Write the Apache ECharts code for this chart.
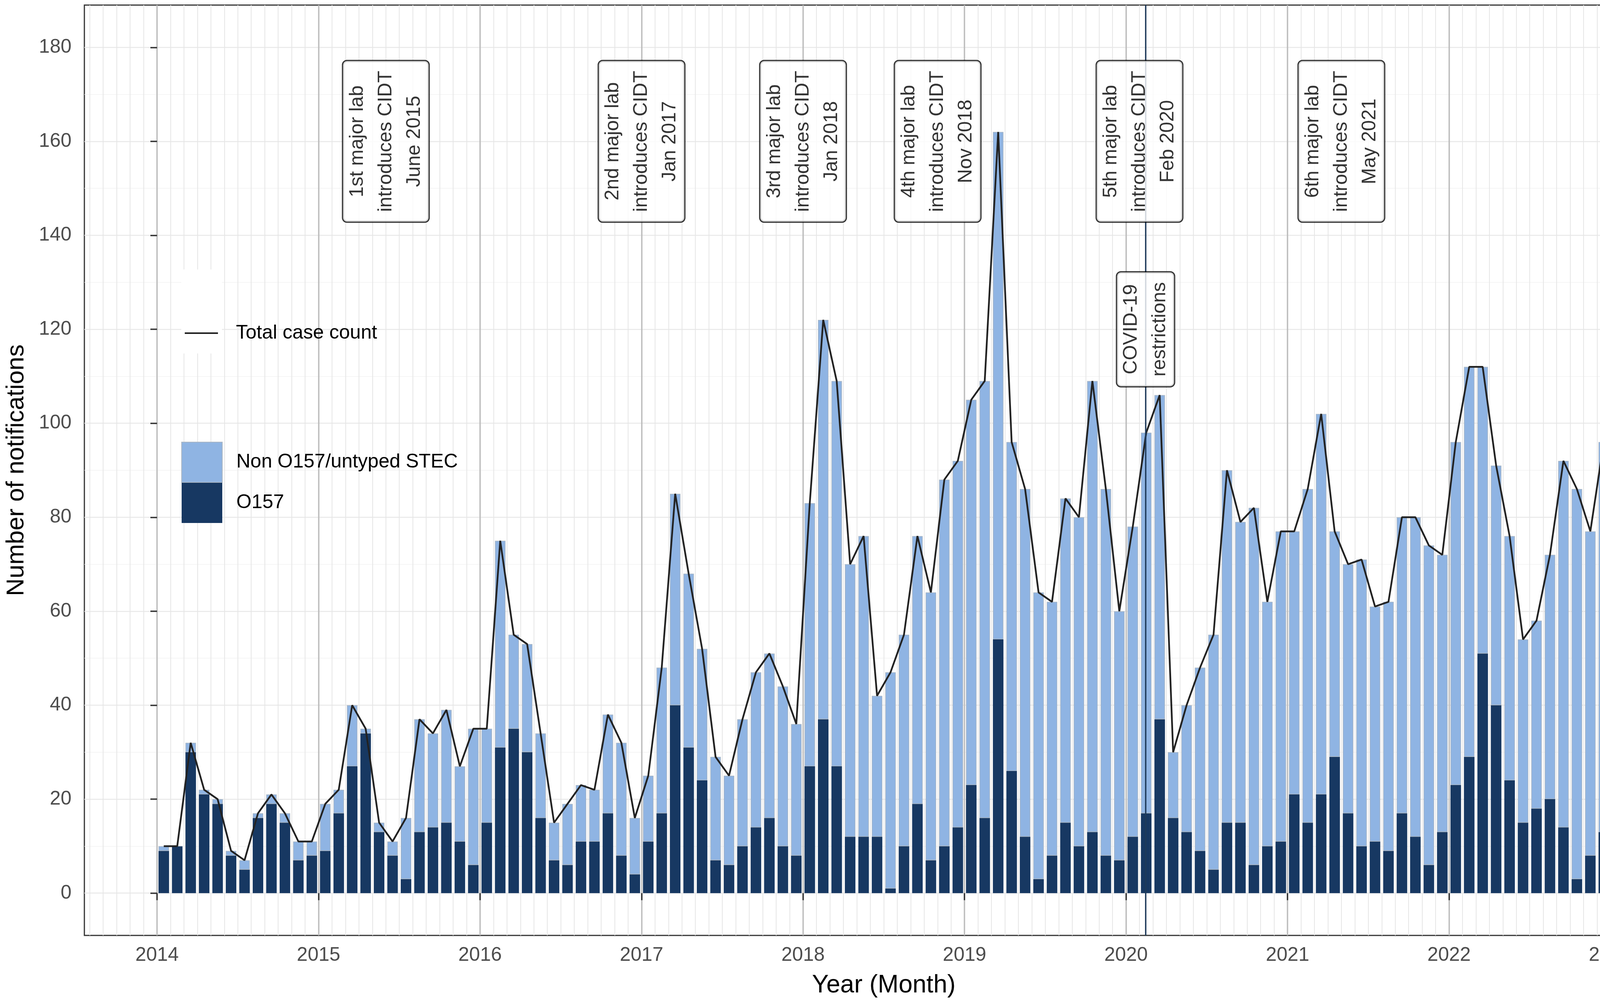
<!DOCTYPE html>
<html lang="en">
<head>
<meta charset="UTF-8">
<title>STEC notifications by month</title>
<script src="https://cdn.jsdelivr.net/npm/echarts@6/dist/echarts.min.js"></script>
<style>
  html, body { margin: 0; padding: 0; background: #fff; }
  #chart { width: 4316px; height: 2568px; }
</style>
</head>
<body>
<div id="chart"></div>
<script>
// monthly counts, Jan 2014 .. Dec 2022
const firstYear = 2014;
const yearTicks = [2014, 2015, 2016, 2017, 2018, 2019, 2020, 2021, 2022, 2023];
const yTicks = [0, 20, 40, 60, 80, 100, 120, 140, 160, 180];
const yMinor = [10, 30, 50, 70, 90, 110, 130, 150, 170];

const o157 = [
  9, 10, 30, 21, 19, 8, 5, 16, 19, 15, 7, 8,
  9, 17, 27, 34, 13, 8, 3, 13, 14, 15, 11, 6,
  15, 31, 35, 30, 16, 7, 6, 11, 11, 17, 8, 4,
  11, 17, 40, 31, 24, 7, 6, 10, 14, 16, 10, 8,
  27, 37, 27, 12, 12, 12, 1, 10, 19, 7, 10, 14,
  23, 16, 54, 26, 12, 3, 8, 15, 10, 13, 8, 7,
  12, 17, 37, 16, 13, 9, 5, 15, 15, 6, 10, 11,
  21, 15, 21, 29, 17, 10, 11, 9, 17, 12, 6, 13,
  23, 29, 51, 40, 24, 15, 18, 20, 14, 3, 8, 13
];
const nonO157 = [
  1, 0, 2, 1, 1, 1, 2, 1, 2, 2, 4, 3,
  10, 5, 13, 1, 2, 3, 13, 24, 20, 24, 16, 29,
  20, 44, 20, 23, 18, 8, 13, 12, 11, 21, 24, 12,
  14, 31, 45, 37, 28, 22, 19, 27, 33, 35, 34, 28,
  56, 85, 82, 58, 64, 30, 46, 45, 57, 57, 78, 78,
  82, 93, 108, 70, 74, 61, 54, 69, 70, 96, 78, 53,
  66, 81, 69, 14, 27, 39, 50, 75, 64, 76, 52, 66,
  56, 71, 81, 48, 53, 61, 50, 53, 63, 68, 68, 59,
  73, 83, 61, 51, 52, 39, 40, 52, 78, 83, 69, 83
];
const total = [
  10, 10, 32, 22, 20, 9, 7, 17, 21, 17, 11, 11,
  19, 22, 40, 35, 15, 11, 16, 37, 34, 39, 27, 35,
  35, 75, 55, 53, 34, 15, 19, 23, 22, 38, 32, 16,
  25, 48, 85, 68, 52, 29, 25, 37, 47, 51, 44, 36,
  83, 122, 109, 70, 76, 42, 47, 55, 76, 64, 88, 92,
  105, 109, 162, 96, 86, 64, 62, 84, 80, 109, 86, 60,
  78, 98, 106, 30, 40, 48, 55, 90, 79, 82, 62, 77,
  77, 86, 102, 77, 70, 71, 61, 62, 80, 80, 74, 72,
  96, 112, 112, 91, 76, 54, 58, 72, 92, 86, 77, 96
];

// annotations: month index from Jan 2014
const labMonths = [17, 36, 48, 58, 73, 88];
const labTexts = [
  '1st major lab\nintroduces CIDT\nJune 2015',
  '2nd major lab\nintroduces CIDT\nJan 2017',
  '3rd major lab\nintroduces CIDT\nJan 2018',
  '4th major lab\nintroduces CIDT\nNov 2018',
  '5th major lab\nintroduces CIDT\nFeb 2020',
  '6th major lab\nintroduces CIDT\nMay 2021'
];
const labY = 160;
const covidMonth = 73.45;
const covidY = 120;
const covidText = 'COVID-19\nrestrictions';

const DARK = '#173862';
const LIGHT = '#8fb4e3';
const FONT = '"Liberation Sans", Arial, Helvetica, sans-serif';

const xMin = -5.4, xMax = 113.4;   // ggplot style 5% padding
const yMin = -9, yMax = 189;

const yearPos = yearTicks.map(y => (y - firstYear) * 12);
const monthPos = [];
for (let m = Math.ceil(xMin); m <= Math.floor(xMax); m++) {
  if (m % 12 !== 0) monthPos.push(m);
}

// value first so the stack runs on y (both axes are value axes)
const stackPts = arr => arr.map((v, i) => [v, i + 0.5]);
const linePts = arr => arr.map((v, i) => [i + 0.5, v]);

const chart = echarts.init(document.getElementById('chart'));

const option = {
  animation: false,
  textStyle: { fontFamily: FONT },
  grid: {
    left: 216, right: 7, top: 13, bottom: 173,
    containLabel: false, outerBoundsMode: 'none',
    show: true, backgroundColor: '#fff',
    borderColor: '#333', borderWidth: 3
  },
  legend: [
    {
      data: ['Total case count'],
      left: 473, top: 828, padding: 0,
      icon: 'rect', itemWidth: 85, itemHeight: 4,
      textStyle: { fontSize: 50, color: '#000', padding: [0, 0, 0, 41] }
    },
    {
      data: ['Non O157/untyped STEC', 'O157'],
      orient: 'vertical',
      left: 464, top: 1131, padding: 0, itemGap: 0,
      icon: 'rect', itemWidth: 104, itemHeight: 103,
      textStyle: { fontSize: 50, color: '#000', padding: [0, 0, 0, 31] }
    }
  ],
  graphic: [
    { type: 'rect', z: 1, shape: { x: 464, y: 690, width: 104, height: 215 }, style: { fill: '#fff' } }
  ],
  xAxis: [
    {
      type: 'value', min: xMin, max: xMax,
      name: 'Year (Month)', nameLocation: 'middle', nameGap: 96,
      nameTextStyle: { fontSize: 64, color: '#000' },
      axisLine: { show: false },
      axisTick: { customValues: yearPos, length: 18, lineStyle: { color: '#333', width: 3.5 } },
      axisLabel: {
        customValues: yearPos, margin: 26, fontSize: 50, color: '#4d4d4d',
        formatter: v => String(firstYear + Math.round(v / 12))
      },
      splitLine: { show: true, lineStyle: { color: '#bdbdbd', width: 3.5 } }
    },
    {
      type: 'value', min: xMin, max: xMax,
      axisLine: { show: false },
      axisTick: { show: false, customValues: monthPos },
      axisLabel: { show: false, customValues: monthPos },
      splitLine: { show: true, lineStyle: { color: '#e6e6e6', width: 2 } }
    }
  ],
  yAxis: [
    {
      type: 'value', min: yMin, max: yMax,
      name: 'Number of notifications', nameLocation: 'middle', nameGap: 142,
      nameRotate: 90,
      nameTextStyle: { fontSize: 63, color: '#000' },
      axisLine: { show: false },
      axisTick: { show: true, customValues: yTicks, length: 17, lineStyle: { color: '#333', width: 3.5 } },
      axisLabel: { customValues: yTicks, margin: 33, fontSize: 50, color: '#4d4d4d' },
      splitLine: { show: true, lineStyle: { color: '#e8e8e8', width: 2.5 } }
    },
    {
      type: 'value', min: yMin, max: yMax,
      axisLine: { show: false },
      axisTick: { show: false, customValues: yMinor },
      axisLabel: { show: false, customValues: yMinor },
      splitLine: { show: true, lineStyle: { color: '#f2f2f2', width: 1.5 } }
    }
  ],
  series: [
    {
      name: 'covid', type: 'line', data: [], z: 1, silent: true,
      markLine: {
        silent: true, symbol: 'none', label: { show: false },
        lineStyle: { color: '#1e3a5a', width: 3.5, type: 'solid' },
        data: [{ xAxis: covidMonth }]
      }
    },
    {
      name: 'O157', type: 'bar', stack: 'cases', barWidth: 27, z: 2,
      encode: { x: 1, y: 0 },
      itemStyle: { color: DARK },
      data: stackPts(o157)
    },
    {
      name: 'Non O157/untyped STEC', type: 'bar', stack: 'cases', barWidth: 27, z: 2,
      encode: { x: 1, y: 0 },
      itemStyle: { color: LIGHT, borderColor: '#a9b6c4', borderWidth: 1.5 },
      data: stackPts(nonO157)
    },
    {
      name: 'Total case count', type: 'line', z: 3,
      symbol: 'none', itemStyle: { color: '#222' },
      lineStyle: { color: '#222', width: 4.5 },
      data: linePts(total)
    },
    {
      name: 'labels', type: 'scatter', z: 5, symbolSize: 0, silent: true,
      label: {
        show: true, position: 'inside', rotate: 90,
        formatter: p => p.data[2],
        fontSize: 50, lineHeight: 73, color: '#000', align: 'center', verticalAlign: 'middle',
        backgroundColor: '#fff', borderColor: '#000', borderWidth: 3, borderRadius: 10,
        padding: [0, 25, 0, 25]
      },
      data: labMonths.map((m, i) => [m, labY, labTexts[i]])
        .concat([[covidMonth, covidY, covidText]])
    }
  ]
};

chart.setOption(option);
</script>
</body>
</html>
